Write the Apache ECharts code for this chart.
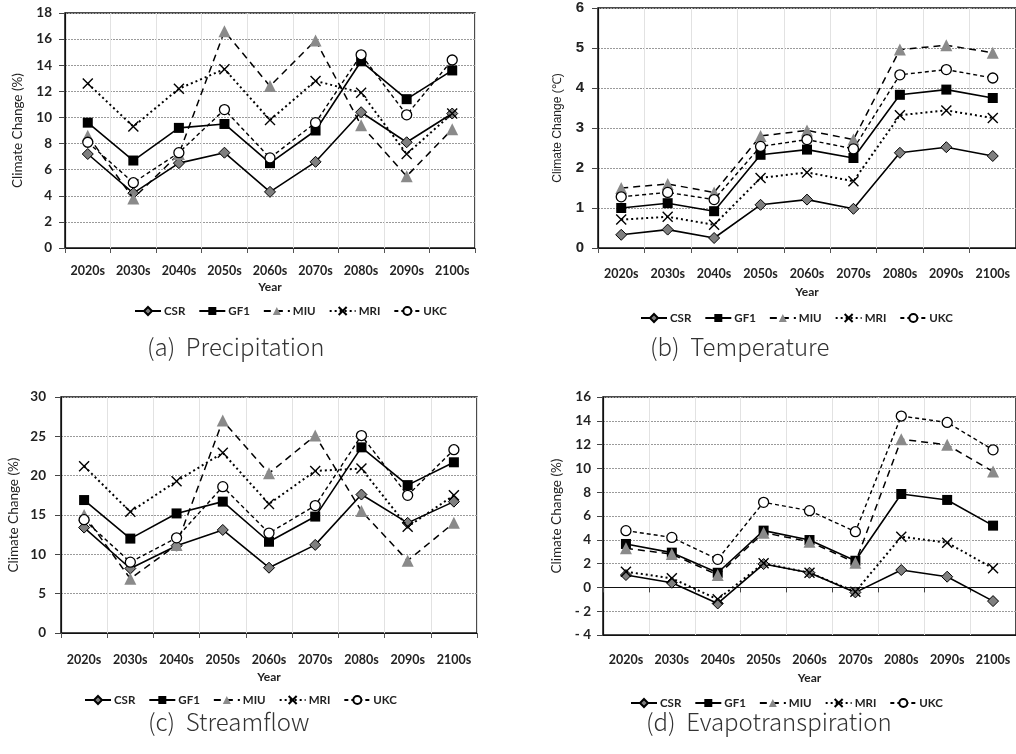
<!DOCTYPE html>
<html>
<head>
<meta charset="utf-8">
<script src="https://cdn.jsdelivr.net/npm/echarts@6/dist/echarts.min.js"></script>
<style>
html,body{margin:0;padding:0;background:#fff;}
#main{width:1016px;height:754px;}
</style>
</head>
<body>
<div id="main"></div>
<script>
const categories = ['2020s','2030s','2040s','2050s','2060s','2070s','2080s','2090s','2100s'];
const modelNames = ['CSR','GF1','MIU','MRI','UKC'];

const precipCSR = [7.2, 4.2, 6.5, 7.3, 4.3, 6.6, 10.4, 8.1, 10.3];
const precipGF1 = [9.6, 6.7, 9.2, 9.5, 6.5, 9.0, 14.3, 11.4, 13.6];
const precipMIU = [8.6, 3.8, 7.2, 16.6, 12.4, 15.9, 9.4, 5.5, 9.1];
const precipMRI = [12.6, 9.3, 12.2, 13.7, 9.8, 12.8, 11.9, 7.2, 10.3];
const precipUKC = [8.1, 5.0, 7.3, 10.6, 6.9, 9.6, 14.8, 10.2, 14.4];

const tempCSR = [0.33, 0.46, 0.25, 1.08, 1.21, 0.98, 2.38, 2.52, 2.30];
const tempGF1 = [1.00, 1.12, 0.92, 2.33, 2.46, 2.25, 3.83, 3.96, 3.75];
const tempMIU = [1.50, 1.60, 1.39, 2.80, 2.94, 2.71, 4.96, 5.07, 4.88];
const tempMRI = [0.71, 0.78, 0.58, 1.75, 1.89, 1.67, 3.32, 3.44, 3.25];
const tempUKC = [1.28, 1.39, 1.21, 2.54, 2.71, 2.48, 4.33, 4.46, 4.25];

const flowCSR = [13.4, 8.2, 11.1, 13.1, 8.3, 11.2, 17.6, 14.0, 16.7];
const flowGF1 = [16.9, 12.0, 15.2, 16.7, 11.6, 14.8, 23.6, 18.8, 21.7];
const flowMIU = [15.0, 6.9, 11.2, 27.0, 20.3, 25.1, 15.5, 9.2, 14.0];
const flowMRI = [21.2, 15.4, 19.3, 22.9, 16.4, 20.6, 20.9, 13.5, 17.5];
const flowUKC = [14.4, 9.0, 12.1, 18.6, 12.7, 16.2, 25.1, 17.5, 23.3];

const etCSR = [1.04, 0.39, -1.35, 1.96, 1.23, -0.42, 1.46, 0.90, -1.15];
const etGF1 = [3.65, 2.92, 1.23, 4.77, 3.98, 2.24, 7.85, 7.35, 5.19];
const etMIU = [3.28, 2.80, 1.04, 4.60, 3.84, 2.08, 12.45, 11.98, 9.73];
const etMRI = [1.32, 0.76, -1.00, 2.02, 1.23, -0.36, 4.26, 3.76, 1.60];
const etUKC = [4.77, 4.20, 2.36, 7.15, 6.45, 4.68, 14.40, 13.86, 11.56];

const panelTitles = ['(a)  Precipitation','(b)  Temperature','(c)  Streamflow','(d)  Evapotranspiration'];
const yNames = ['Climate Change (%)','Climate Change (\u2103)','Climate Change (%)','Climate Change (%)'];
const yMin = [0, 0, 0, -4];
const yMax = [18, 6, 30, 16];
const yStep = [2, 1, 5, 2];

const panelData = [
  [precipCSR, precipGF1, precipMIU, precipMRI, precipUKC],
  [tempCSR, tempGF1, tempMIU, tempMRI, tempUKC],
  [flowCSR, flowGF1, flowMIU, flowMRI, flowUKC],
  [etCSR, etGF1, etMIU, etMRI, etUKC]
];

// layout
const grids = [
  {left: 65, top: 13, width: 410, height: 235},
  {left: 598, top: 8, width: 420, height: 240},
  {left: 61, top: 397, width: 416, height: 236},
  {left: 603, top: 397, width: 415, height: 238}
];
const xLabelMargin = [16, 19, 20, 18];
const xNameGap = [33, 38, 38, 37];
const yNameGap = [40, 34, 40, 39];
const yLabelMargin = [13, 14, 15, 12];
const legendPos = [{left: 134, top: 305}, {left: 640, top: 312}, {left: 84, top: 694}, {left: 630, top: 697}];
const titlePos = [{left: 147, top: 335}, {left: 650, top: 335}, {left: 148, top: 710}, {left: 646, top: 710}];

const LATO = 'Lato';
const styles = {
  CSR: {symbol: 'diamond', symbolSize: 11, itemStyle: {color: '#7f7f7f', borderColor: '#000', borderWidth: 1}, lineStyle: {color: '#000', width: 1.6, type: 'solid'}},
  GF1: {symbol: 'rect', symbolSize: 10, itemStyle: {color: '#000', borderColor: '#000', borderWidth: 0}, lineStyle: {color: '#000', width: 1.6, type: 'solid'}},
  MIU: {symbol: 'triangle', symbolSize: 12, itemStyle: {color: '#8a8a8a', borderWidth: 0}, lineStyle: {color: '#000', width: 1.5, type: [7, 5]}},
  MRI: {symbol: 'path://M0,0L10,10M10,0L0,10', symbolSize: 10, itemStyle: {color: 'rgba(0,0,0,0)', borderColor: '#000', borderWidth: 1.4}, lineStyle: {color: '#000', width: 2, type: [2, 3]}},
  UKC: {symbol: 'circle', symbolSize: 10, itemStyle: {color: '#fff', borderColor: '#000', borderWidth: 1.3}, lineStyle: {color: '#000', width: 1.4, type: [4, 3]}}
};

const option = {
  animation: false,
  backgroundColor: '#fff',
  title: panelTitles.map((t, i) => ({
    text: t, left: titlePos[i].left, top: titlePos[i].top, padding: 0,
    textStyle: {fontFamily: 'Noto Sans CJK KR', fontWeight: 300, fontSize: 24, color: '#333'}
  })),
  grid: grids.map(g => Object.assign({show: true, borderColor: '#111', borderWidth: 1.5, backgroundColor: 'transparent', containLabel: false}, g)),
  legend: legendPos.map((p, i) => ({
    data: modelNames, left: p.left, top: p.top, padding: 0, orient: 'horizontal',
    itemWidth: 26, itemHeight: 10, itemGap: 13,
    textStyle: {fontFamily: LATO, fontWeight: 'bold', fontSize: 11.5, color: '#222', padding: [0, 0, 0, -2]},
    selectedMode: false
  })),
  xAxis: [],
  yAxis: [],
  series: []
};

for (let i = 0; i < 4; i++) {
  option.xAxis.push({
    type: 'category', gridIndex: i, data: categories, boundaryGap: true, position: 'bottom',
    name: 'Year', nameLocation: 'middle', nameGap: xNameGap[i],
    nameTextStyle: {fontFamily: LATO, fontWeight: 'bold', fontSize: 12, color: '#222'},
    axisLine: {show: true, onZero: false, lineStyle: {color: '#111', width: 1.2}},
    axisTick: {show: i !== 3, length: 5, lineStyle: {color: '#555'}},
    axisLabel: {fontFamily: LATO, fontWeight: 'bold', fontSize: 12.5, color: '#222', margin: xLabelMargin[i], interval: 0},
    splitLine: {show: true, lineStyle: {color: '#e2e2e2', width: 1}}
  });
  const isB = i === 1;
  option.yAxis.push({
    type: 'value', gridIndex: i, min: yMin[i], max: yMax[i], interval: yStep[i],
    name: yNames[i], nameLocation: 'middle', nameGap: yNameGap[i], nameRotate: 90,
    nameTextStyle: {fontFamily: isB ? 'Liberation Sans' : LATO, fontSize: isB ? 12 : 13.5, color: '#222'},
    axisLine: {show: true, lineStyle: {color: '#111', width: 1.2}},
    axisTick: {show: true, length: 6, lineStyle: {color: '#444'}},
    axisLabel: {
      fontFamily: isB ? 'Liberation Sans' : LATO, fontWeight: 'bold', fontSize: isB ? 15 : 13.5, color: '#222',
      margin: yLabelMargin[i],
      formatter: v => (v < 0 ? '- ' + (-v) : String(v))
    },
    splitLine: {show: true, lineStyle: {color: '#9a9a9a', width: 1, type: [2, 1]}}
  });
  panelData[i].forEach((vals, k) => {
    const nm = modelNames[k];
    const st = styles[nm];
    option.series.push({
      type: 'line', name: nm, xAxisIndex: i, yAxisIndex: i, data: vals,
      symbol: st.symbol, symbolSize: st.symbolSize, showSymbol: true,
      itemStyle: st.itemStyle, lineStyle: st.lineStyle,
      emphasis: {disabled: true}, z: 2 + k
    });
  });
}
// zero line for panel (d)
option.xAxis.push({
  type: 'category', gridIndex: 3, data: categories, boundaryGap: true, position: 'top',
  axisLine: {show: true, onZero: true, lineStyle: {color: '#111', width: 1.2}},
  axisTick: {show: true, inside: true, length: 5, lineStyle: {color: '#444'}},
  axisLabel: {show: false},
  splitLine: {show: false}
});

const chart = echarts.init(document.getElementById('main'), null, {renderer: 'canvas'});
chart.setOption(option);
</script>
</body>
</html>
